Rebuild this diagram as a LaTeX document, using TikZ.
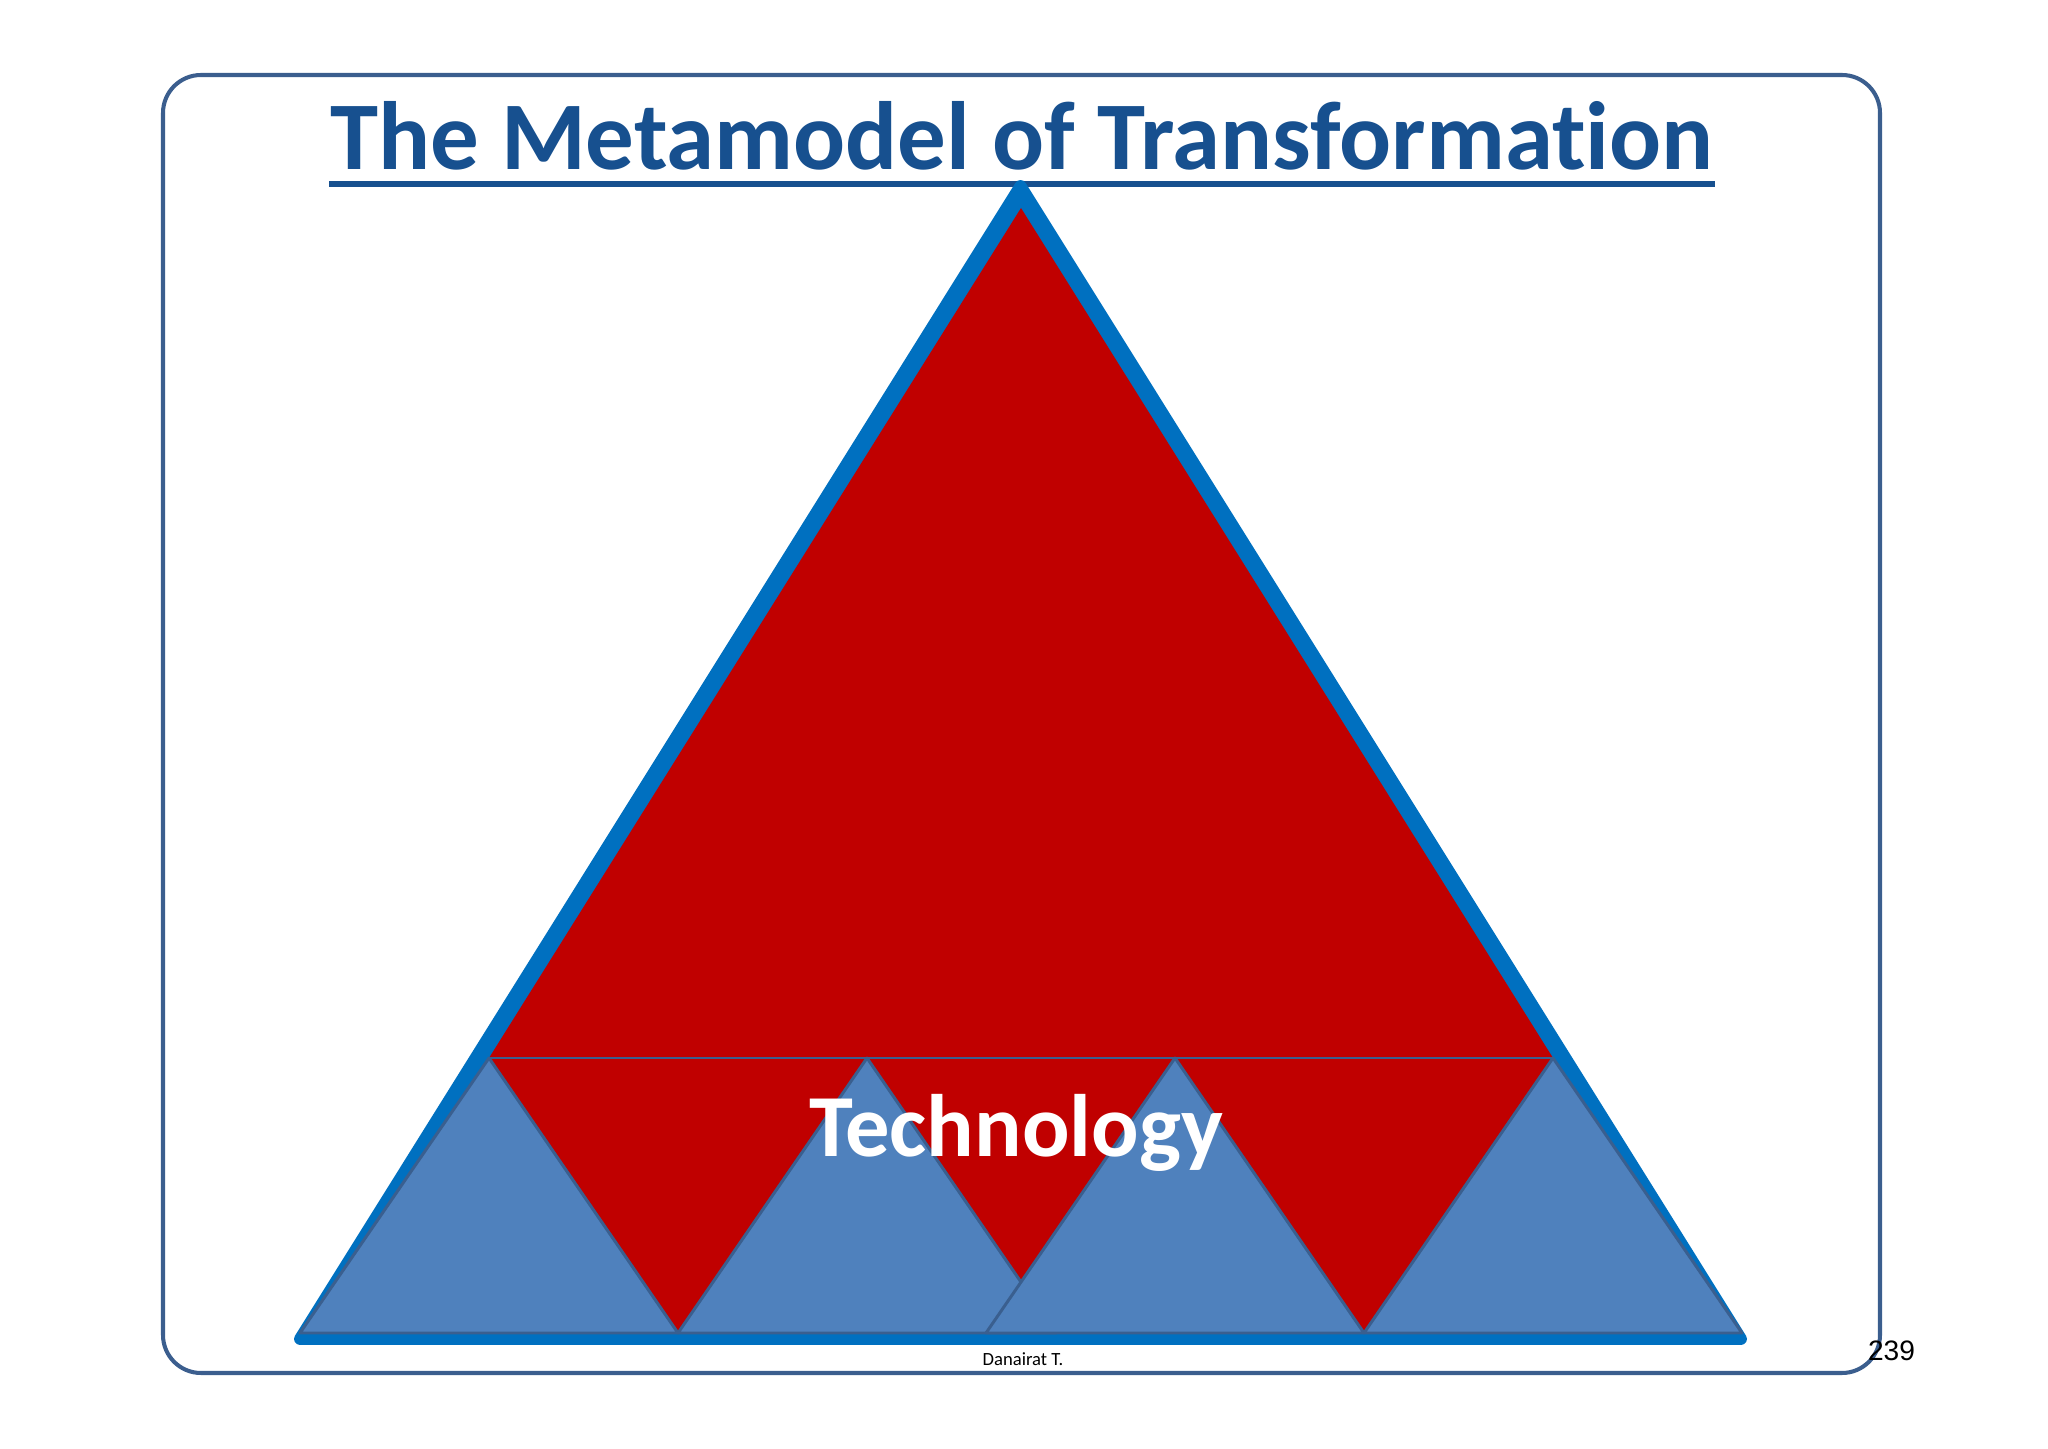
\documentclass[tikz,border=0pt]{standalone}
\usepackage{fontspec}
\setmainfont{Carlito}[Ligatures=NoCommon]
\newfontfamily\pagenofont{Liberation Sans}
\usepackage{tkz-euclide}
\definecolor{frameblue}{RGB}{59,94,142}
\definecolor{titleblue}{RGB}{23,80,143}
\definecolor{outerblue}{RGB}{0,112,192}
\definecolor{techred}{RGB}{192,0,0}
\definecolor{tripblue}{RGB}{79,129,189}
\definecolor{tripedge}{RGB}{58,95,143}

\begin{document}
\begin{tikzpicture}[semithick,
  smalltri/.style={draw=tripedge,fill=tripblue,line width=0.85pt,line join=round}]
\useasboundingbox (0,0) rectangle (20.48,14.48);
\tkzDefPoints{10.205/12.62/A,3/1.09/B,17.41/1.09/C}
\tkzDefPoints{10.21/12.40/R,4.89/3.90/L,15.53/3.90/M,15.53/1.15/M1}
\tkzDefPoints{4.89/3.90/P1,3.00/1.15/Q1,6.78/1.15/S1}
\tkzDefPoints{8.67/3.90/P2,6.78/1.15/Q2,10.56/1.15/S2}
\tkzDefPoints{11.75/3.90/P3,9.86/1.15/Q3,13.64/1.15/S3}
\tkzDefPoints{15.53/3.90/P4,13.64/1.15/Q4,17.42/1.15/S4}
% slide frame
\draw[frameblue,line width=1.15pt,rounded corners=0.38cm](1.63,0.75) rectangle (18.80,13.73);
\node[anchor=base,inner sep=0pt,text=titleblue,font=\bfseries\fontsize{27.6}{32}\selectfont](title) at (10.22,12.78){The Metamodel of Transformation};
\draw[titleblue,line width=1.8pt]([yshift=-0.14cm]title.base west)--([yshift=-0.14cm]title.base east);
% pyramid
\draw[outerblue,fill=outerblue,line width=3.4pt,line join=round](A)--(B)--(C)--cycle;
\fill[techred](R)--(L)--(M)--cycle;
\fill[techred](L) rectangle (M1);
\draw[tripedge,line width=0.85pt](L)--(M);
\draw[smalltri](P1)--(Q1)--(S1)--cycle;
\draw[smalltri](P2)--(Q2)--(S2)--cycle;
\draw[smalltri](P3)--(Q3)--(S3)--cycle;
\draw[smalltri](P4)--(Q4)--(S4)--cycle;
\node[anchor=base,inner sep=0pt,text=white,font=\bfseries\fontsize{25.2}{28}\selectfont](tech) at (10.16,2.91){Technology};
\node[anchor=base,inner sep=0pt,font=\fontsize{5.3}{6}\selectfont](author) at (10.23,0.82){Danairat T.};
\node[anchor=base,inner sep=0pt,font=\pagenofont\fontsize{8}{9}\selectfont](pageno) at (18.915,0.88){239};
\end{tikzpicture}
\end{document}
